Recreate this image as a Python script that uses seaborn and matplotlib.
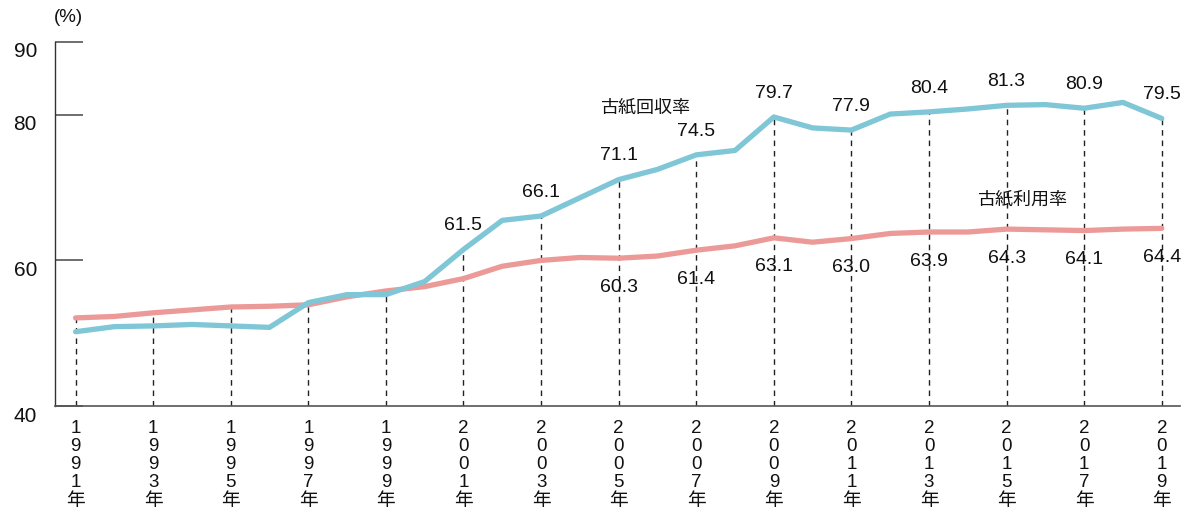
import numpy as np
import pandas as pd
import matplotlib
matplotlib.use("Agg")
import matplotlib.pyplot as plt
import matplotlib.transforms as mtransforms
import seaborn as sns

years = list(range(1991, 2020))
recovery = [50.2, 50.9, 51.0, 51.2, 51.0, 50.8, 54.2, 55.3, 55.3, 57.1,
            61.5, 65.5, 66.1, 68.6, 71.1, 72.5, 74.5, 75.1, 79.7, 78.2,
            77.9, 80.1, 80.4, 80.8, 81.3, 81.4, 80.9, 81.7, 79.5]
utilization = [52.1, 52.3, 52.8, 53.2, 53.6, 53.7, 53.9, 55.0, 55.8, 56.4,
               57.5, 59.2, 60.0, 60.4, 60.3, 60.6, 61.4, 62.0, 63.1, 62.5,
               63.0, 63.7, 63.9, 63.9, 64.3, 64.2, 64.1, 64.3, 64.4]
recovery_label_years = [2001, 2003, 2005, 2007, 2009, 2011, 2013, 2015, 2017, 2019]
utilization_label_years = [2005, 2007, 2009, 2011, 2013, 2015, 2017, 2019]
tick_years = list(range(1991, 2020, 2))
y_ticks = [40, 60, 80, 90]
name_recovery = "古紙回収率"
name_utilization = "古紙利用率"

sns.set_style("white")
plt.rcParams['font.family'] = ['Liberation Sans', 'Noto Sans CJK JP', 'DejaVu Sans']

df = pd.DataFrame({"year": years * 2,
                   "value": utilization + recovery,
                   "series": [name_utilization] * len(years) + [name_recovery] * len(years)})

fig = plt.figure(figsize=(11.94, 5.13), dpi=100)
ax = fig.add_axes([55 / 1194, 1 - 406 / 513, (1180 - 55) / 1194, (406 - 42) / 513])

blue = "#7fc6d6"
pink = "#ec9a98"

# dashed guides
upper = {y: max(r, u) for y, r, u in zip(years, recovery, utilization)}
for y in tick_years:
    ax.plot([y, y], [40, upper[y]], color="#222222", lw=1.0, ls=(0, (4, 3.5)), zorder=1)

sns.lineplot(data=df, x="year", y="value", hue="series",
             palette={name_utilization: pink, name_recovery: blue},
             hue_order=[name_utilization, name_recovery],
             linewidth=3.8, legend=False, ax=ax, zorder=3)

ax.set_xlim(1990.47, 2019.47)
ax.set_ylim(40, 90)
ax.set_xlabel("")
ax.set_ylabel("")

for side in ["top", "right"]:
    ax.spines[side].set_visible(False)
ax.spines["left"].set_color("#333333")
ax.spines["left"].set_linewidth(1.0)
ax.spines["bottom"].set_color("#555555")
ax.spines["bottom"].set_linewidth(1.2)

ax.set_yticks(y_ticks)
ax.set_yticklabels([str(v) for v in y_ticks], fontsize=15)
ax.tick_params(axis="y", left=True, direction="in", length=20, width=1.2,
               color="#555555", pad=13, labelcolor="#111111")
offset = mtransforms.ScaledTranslation(0, -8 / 100, fig.dpi_scale_trans)
for lab in ax.get_yticklabels():
    lab.set_transform(lab.get_transform() + offset)

ax.set_xticks(tick_years)
ax.set_xticklabels(["\n".join(list(str(y)) + ["年"]) for y in tick_years],
                   fontsize=13.5, linespacing=1.09, va="top")
ax.tick_params(axis="x", bottom=False, length=0, pad=10, labelcolor="#111111")

for y in recovery_label_years:
    v = recovery[years.index(y)]
    ax.annotate(f"{v:.1f}", (y, v), xytext=(0, 17), textcoords="offset points",
                ha="center", va="center", fontsize=14, color="#111111")
for y in utilization_label_years:
    v = utilization[years.index(y)]
    ax.annotate(f"{v:.1f}", (y, v), xytext=(0, -21), textcoords="offset points",
                ha="center", va="center", fontsize=14, color="#111111")

ax.text(2005.68, 80.96, name_recovery, ha="center", va="center", fontsize=13, color="#111111")
ax.text(2015.39, 68.3, name_utilization, ha="center", va="center", fontsize=13, color="#111111")
fig.text(68 / 1194, 1 - 18 / 513, "(%)", ha="center", va="center", fontsize=13.5, color="#111111")

fig.savefig("out.png", dpi=100)
